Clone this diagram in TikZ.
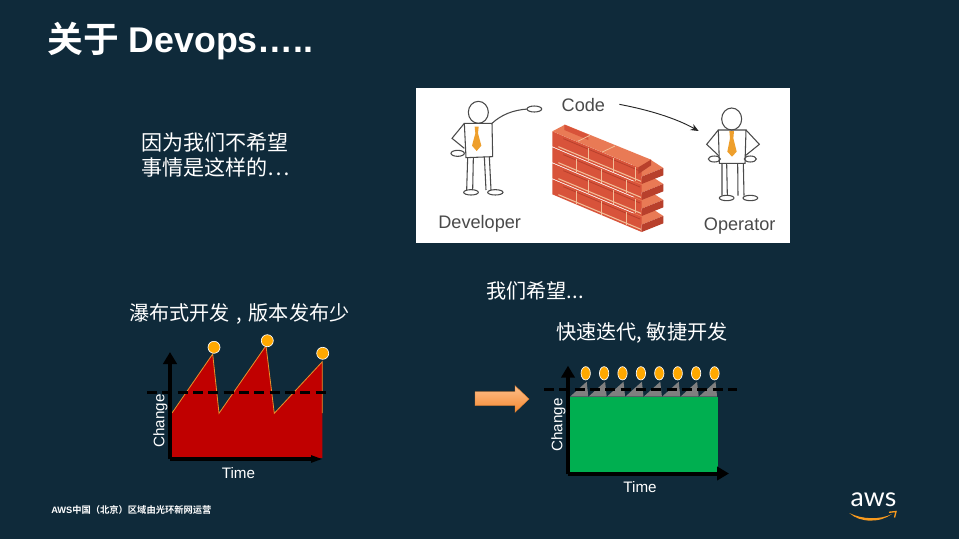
\documentclass[tikz,border=0pt]{standalone}
\usepackage{fontspec}
\setmainfont{Liberation Sans}
\newfontfamily\cjk[BoldFont=* Bold]{Noto Sans CJK SC}
\newfontfamily\awsfont{Lato}
\usetikzlibrary{arrows.meta,shapes.geometric}
\definecolor{bgc}{HTML}{0F2A3A}
\definecolor{redc}{HTML}{C00000}
\definecolor{greenc}{HTML}{00AF50}
\definecolor{dotc}{HTML}{FFA800}
\definecolor{sawc}{HTML}{E8902A}
\definecolor{inkc}{HTML}{4A4A4A}
\definecolor{tiec}{HTML}{EE9F2C}
\definecolor{brickc}{HTML}{D8533A}
\definecolor{bricktop}{HTML}{E97A55}
\definecolor{brickdark}{HTML}{B8402C}
\definecolor{mortar}{HTML}{F2BE98}
\definecolor{greyc}{HTML}{7F7F7F}
\definecolor{arrowtop}{HTML}{FDBE8A}
\definecolor{arrowbot}{HTML}{F58A32}
\definecolor{arrowline}{HTML}{E07F2E}
\definecolor{smile}{HTML}{F79A1E}
\tikzset{
  body/.style={text=white,inner sep=0pt,font=\cjk\fontsize{15.8}{19}\selectfont,align=left},
  bodysmall/.style={text=white,inner sep=0pt,font=\cjk\fontsize{15.1}{19}\selectfont,align=left},
  axlabel/.style={text=white,inner sep=0pt,font=\fontsize{11.4}{13}\selectfont},
  axis/.style={black,line width=3pt,-{Triangle[length=9pt,width=10pt]}},
  limitline/.style={black,line width=1.9pt,dash pattern=on 7.5pt off 4pt},
  dot/.style={circle,draw=white,line width=.5pt,fill=dotc,minimum size=9pt,inner sep=0pt},
  tall/.style={ellipse,draw=white,line width=.5pt,fill=dotc,minimum width=7pt,minimum height=10pt,inner sep=0pt},
  sketch/.style={inkc,line width=.8pt},
  imglabel/.style={text=inkc,inner sep=0pt,font=\fontsize{13.6}{15}\selectfont},
}
\begin{document}
\begin{tikzpicture}[x=.75pt,y=-.75pt]
\useasboundingbox (0,0) rectangle (959,539);
\fill[bgc] (0,0) rectangle (959,539);
% title
\node[text=white,anchor=west,inner sep=0pt,font=\bfseries\fontsize{26.8}{29}\selectfont] (title) at (47,41) {{\cjk\bfseries 关于} Devops…..};
% left text
\node[body,anchor=west] (why) at (141,155) {因为我们不希望\\事情是这样的…};
% image
\fill[white] (416,88) rectangle (790,243);
\begin{scope}[shift={(416,85)},x=.25pt,y=-.25pt]
  % developer
  \draw[sketch] (187,82) ellipse (30 and 33);
  \draw[sketch] (145,115) -- (228,115) -- (230,215) -- (150,218) -- cycle;
  \draw[sketch] (145,115) -- (108,160) -- (145,190);
  \draw[sketch] (125,205) ellipse (20 and 9);
  \draw[sketch] (228,115) .. controls (255,90) and (290,75) .. (335,72);
  \draw[sketch] (355,72) ellipse (22 and 9);
  \draw[sketch] (155,218) -- (152,315) (172,218) -- (170,315) (205,215) -- (210,315) (220,215) -- (225,315);
  \draw[sketch] (165,322) ellipse (22 and 8) (238,322) ellipse (23 and 8);
  \fill[tiec] (176,125) -- (188,125) -- (186,145) -- (196,182) -- (182,198) -- (168,182) -- (178,145) -- cycle;
  % operator
  \draw[sketch] (947,102) ellipse (30 and 33);
  \draw[sketch] (907,135) -- (990,135) -- (987,235) -- (910,235) -- cycle;
  \draw[sketch] (907,135) -- (872,178) -- (908,212);
  \draw[sketch] (990,135) -- (1030,178) -- (988,212);
  \draw[sketch] (895,222) ellipse (18 and 9) (1003,222) ellipse (18 and 9);
  \draw[sketch] (918,235) -- (918,332) (932,235) -- (934,332) (965,235) -- (966,332) (982,235) -- (984,332);
  \draw[sketch] (932,339) ellipse (22 and 8) (1003,339) ellipse (22 and 8);
  \fill[tiec] (940,138) -- (954,138) -- (952,160) -- (962,200) -- (948,215) -- (934,200) -- (942,160) -- cycle;
\end{scope}
% wall
\begin{scope}[shift={(545,118)},x=.25pt,y=-.25pt]
  % course ends, bottom up
  \foreach \k in {144,96,48,0}{
    \fill[bricktop] (245,150+\k) -- (315,124+\k) -- (355,150+\k) -- (290,176+\k) -- cycle;
    \fill[brickdark] (290,176+\k) -- (355,150+\k) -- (355,172+\k) -- (290,198+\k) -- cycle;
  }
  % front of the courses
  \foreach \k/\a/\b/\c in {144/95/170/245,96/130/205/270,48/95/170/245,0/130/205/270}{
    \fill[brickc] (22,40+\k) -- (290,153+\k) -- (290,198+\k) -- (22,85+\k) -- cycle;
    \draw[brickdark,line width=.6pt] (55,62+\k) -- (285,159+\k);
    \draw[mortar,line width=.8pt] (40,86+\k) -- (288,190+\k);
    \draw[mortar,line width=.7pt] (\a,{40+\k+(\a-22)*.42+4}) -- +(0,40) (\b,{40+\k+(\b-22)*.42+4}) -- +(0,40) (\c,{40+\k+(\c-22)*.42+4}) -- +(0,40);
  }
  % top of the wall
  \fill[bricktop] (22,40) -- (60,20) -- (318,125) -- (280,148) -- cycle;
  \fill[brickc] (58,36) -- (130,66) -- (130,50) -- (58,20) -- cycle;
  \draw[mortar,line width=.6pt] (135,52) -- (98,70) (210,84) -- (172,102);
  \fill[brickdark] (280,148) -- (318,125) -- (318,142) -- (280,168) -- cycle;
\end{scope}
\begin{scope}[shift={(416,85)},x=.25pt,y=-.25pt]
  % labels
  \node[imglabel] (code) at (502,59) {Code};
  \node[imglabel] (dev) at (191,415) {Developer};
  \node[imglabel] (op) at (971,423) {Operator};
  \coordinate (throw) at (610,58);
  \coordinate (catch) at (848,138);
  \draw[black!85,line width=.7pt,-{Stealth[length=6pt,width=5pt]}] (throw) .. controls (700,75) and (780,100) .. (catch);
\end{scope}
% waterfall
\node[bodysmall,anchor=west] (wf) at (129,314) {瀑布式开发\hspace{5pt},\hspace{5pt}版本发布少};
\fill[redc] (172,413) -- (212.7,354) -- (219,413.3) -- (266,345.7) -- (274.3,413.3) -- (322.3,361.7) -- (322.3,458) -- (172,458) -- cycle;
\draw[sawc,line width=.6pt] (172,413) -- (212.7,354) -- (219,413.3) -- (266,345.7) -- (274.3,413.3) -- (322.3,361.7) -- (322.3,413);
\coordinate (o1) at (170,459);
\coordinate (y1) at (170,352);
\coordinate (x1) at (323,459);
\draw[axis] (o1) -- (y1);
\draw[black,line width=2.6pt,-{Triangle[length=9pt,width=5pt]}] (o1) -- (x1);
\coordinate (la) at (147,392.7);
\coordinate (lb) at (326,392.7);
\draw[limitline] (la) -- (lb);
\node[dot] (d1) at (214,347.3) {};
\node[dot] (d2) at (267.3,340.7) {};
\node[dot] (d3) at (322.7,353.3) {};
\node[axlabel,rotate=90] (ch1) at (160.5,421) {Change};
\node[axlabel] (t1) at (238.5,473.5) {Time};
% big arrow
\shade[top color=arrowtop,bottom color=arrowbot,draw=arrowline,line width=.3pt]
  (475,391.7) -- (515,391.7) -- (515,385.7) -- (529,399) -- (515,412.3) -- (515,405.7) -- (475,405.7) -- cycle;
% agile
\node[bodysmall,anchor=west] (wish) at (486,291) {我们希望...};
\node[bodysmall,anchor=west] (fast) at (556,332.5) {快速迭代, 敏捷开发};
\fill[greenc] (569,396.7) rectangle (717.7,471.7);
\foreach \i in {0,...,7}{
  \fill[greyc] ({570+18.4*\i},396.7) -- ({586.7+18.4*\i},381.7) -- ({588.3+18.4*\i},396.7) -- cycle;
}
\coordinate (o2) at (568,473.5);
\coordinate (y2) at (568,365.7);
\coordinate (x2) at (729,473.5);
\draw[axis] (o2) -- (y2);
\draw[axis] (o2) -- (x2);
\coordinate (lc) at (544,389.3);
\coordinate (ld) at (737,389.3);
\draw[limitline] (lc) -- (ld);
\node[tall] (e0) at (585.7,373.3) {};
\node[tall] (e1) at (604.1,373.3) {};
\node[tall] (e2) at (622.5,373.3) {};
\node[tall] (e3) at (640.9,373.3) {};
\node[tall] (e4) at (659.3,373.3) {};
\node[tall] (e5) at (677.7,373.3) {};
\node[tall] (e6) at (696.1,373.3) {};
\node[tall] (e7) at (714.5,373.3) {};
\node[axlabel,rotate=90] (ch2) at (558.5,425) {Change};
\node[axlabel] (t2) at (640,487) {Time};
% footer
\node[text=white,anchor=west,inner sep=0pt,font=\bfseries\fontsize{6.95}{8}\selectfont] (foot) at (51,509.5) {AWS{\cjk\bfseries 中国（北京）区域由光环新网运营}};
% logo
\node[text=white,inner sep=0pt,font=\awsfont\fontsize{20}{22}\selectfont] (aws) at (873.5,500) {aws};
\fill[smile] (849.3,513) .. controls (862,519.5) and (880,520) .. (892,514) .. controls (880,523) and (860,523) .. (849.3,513) -- cycle;
\draw[smile,line width=1pt] (889,512.3) -- (896,511.5) -- (894.5,517.5);
\end{tikzpicture}
\end{document}
